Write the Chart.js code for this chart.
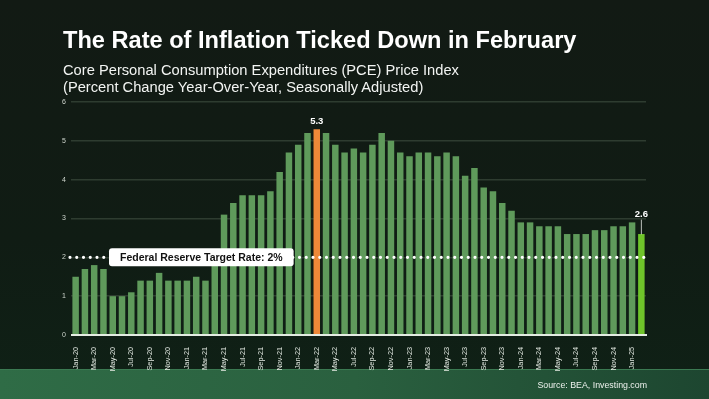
<!DOCTYPE html>
<html>
<head>
<meta charset="utf-8">
<script src="https://cdn.jsdelivr.net/npm/chart.js@4.4.1/dist/chart.umd.min.js"></script>
<style>
  html, body { margin: 0; padding: 0; }
  body { width: 709px; height: 399px; overflow: hidden; background: linear-gradient(180deg, #121a14 0%, #101c14 60%, #0f2116 100%); font-family: "Liberation Sans", Arial, sans-serif; }
  #wrap { position: relative; width: 709px; height: 399px; }
  #band { position: absolute; left: 0; top: 369px; width: 709px; height: 30px; background: linear-gradient(90deg, #2f6c46 0%, #2a603f 50%, #1d4630 100%); border-top: 1px solid #3b7a52; box-sizing: border-box; }
  canvas { position: absolute; left: 0; top: 0; }
  .title { position: absolute; left: 63px; top: 28px; color: #ffffff; font-weight: bold; font-size: 23.6px; line-height: 24px; white-space: nowrap; }
  .sub { position: absolute; left: 63px; top: 61.5px; color: #f2f4f2; font-size: 14.7px; line-height: 17px; white-space: nowrap; }
  .source { position: absolute; right: 62px; top: 380px; color: #eef2ee; font-size: 8.8px; line-height: 11px; white-space: nowrap; }
</style>
</head>
<body>
<div id="wrap">
  <div id="band"></div>
  <canvas id="c" width="709" height="399"></canvas>
  <div class="title">The Rate of Inflation Ticked Down in February</div>
  <div class="sub">Core Personal Consumption Expenditures (PCE) Price Index<br>(Percent Change Year-Over-Year, Seasonally Adjusted)</div>
  <div class="source">Source: BEA, Investing.com</div>
</div>
<script>
// ---- Data ----
const months = [
  'Jan-20','Feb-20','Mar-20','Apr-20','May-20','Jun-20','Jul-20','Aug-20','Sep-20','Oct-20','Nov-20','Dec-20',
  'Jan-21','Feb-21','Mar-21','Apr-21','May-21','Jun-21','Jul-21','Aug-21','Sep-21','Oct-21','Nov-21','Dec-21',
  'Jan-22','Feb-22','Mar-22','Apr-22','May-22','Jun-22','Jul-22','Aug-22','Sep-22','Oct-22','Nov-22','Dec-22',
  'Jan-23','Feb-23','Mar-23','Apr-23','May-23','Jun-23','Jul-23','Aug-23','Sep-23','Oct-23','Nov-23','Dec-23',
  'Jan-24','Feb-24','Mar-24','Apr-24','May-24','Jun-24','Jul-24','Aug-24','Sep-24','Oct-24','Nov-24','Dec-24',
  'Jan-25','Feb-25'
];
const corePCE = [
  1.5,1.7,1.8,1.7,1.0,1.0,1.1,1.4,1.4,1.6,1.4,1.4,
  1.4,1.5,1.4,2.0,3.1,3.4,3.6,3.6,3.6,3.7,4.2,4.7,
  4.9,5.2,5.3,5.2,4.9,4.7,4.8,4.7,4.9,5.2,5.0,4.7,
  4.6,4.7,4.7,4.6,4.7,4.6,4.1,4.3,3.8,3.7,3.4,3.2,
  2.9,2.9,2.8,2.8,2.8,2.6,2.6,2.6,2.7,2.7,2.8,2.8,
  2.9,2.6
];
const yTicks = [0, 1, 2, 3, 4, 5, 6];
const targetRate = 2;
const targetLabel = 'Federal Reserve Target Rate: 2%';
const peakMonth = 'Mar-22';
const latestMonth = 'Feb-25';
const labeledMonths = [peakMonth, latestMonth];

// ---- Styles ----
const baseColor = '#5f9a5b';
const peakColor = '#ee8838';
const latestColor = '#6fc42a';
const barColors = months.map(m => m === peakMonth ? peakColor : (m === latestMonth ? latestColor : baseColor));

const overlayPlugin = {
  id: 'overlay',
  afterDatasetsDraw(chart) {
    const ctx = chart.ctx;
    const area = chart.chartArea;
    const y = chart.scales.y;
    const meta = chart.getDatasetMeta(0);
    // zero baseline
    ctx.save();
    ctx.strokeStyle = '#e4ece2';
    ctx.lineWidth = 2;
    ctx.beginPath();
    ctx.moveTo(area.left, y.getPixelForValue(0));
    ctx.lineTo(area.right + 1, y.getPixelForValue(0));
    ctx.stroke();
    // dotted target line
    const ty = y.getPixelForValue(targetRate);
    ctx.strokeStyle = '#ffffff';
    ctx.lineWidth = 3.2;
    ctx.lineCap = 'round';
    ctx.setLineDash([0, 6.75]);
    ctx.beginPath();
    ctx.moveTo(area.left - 1, ty);
    ctx.lineTo(area.right - 2, ty);
    ctx.stroke();
    ctx.setLineDash([]);
    // target label box
    ctx.font = 'bold 10.5px "Liberation Sans", Arial, sans-serif';
    const tw = ctx.measureText(targetLabel).width;
    const bx = 109, bw = tw + 22, bh = 18;
    ctx.fillStyle = '#ffffff';
    ctx.beginPath();
    ctx.roundRect(bx, ty - bh / 2, bw, bh, 3);
    ctx.fill();
    ctx.fillStyle = '#111111';
    ctx.textAlign = 'left';
    ctx.textBaseline = 'middle';
    ctx.fillText(targetLabel, bx + 11, ty + 0.5);
    // value labels
    ctx.font = 'bold 9.5px "Liberation Sans", Arial, sans-serif';
    ctx.fillStyle = '#ffffff';
    ctx.textAlign = 'center';
    ctx.textBaseline = 'alphabetic';
    labeledMonths.forEach(m => {
      const i = months.indexOf(m);
      const bar = meta.data[i];
      const v = corePCE[i].toFixed(1);
      if (m === latestMonth) {
        const ly = bar.y - 17;
        ctx.fillText(v, bar.x, ly);
        ctx.strokeStyle = '#e8ece8';
        ctx.lineWidth = 0.8;
        ctx.beginPath();
        ctx.moveTo(bar.x, ly + 3);
        ctx.lineTo(bar.x, bar.y);
        ctx.stroke();
      } else {
        ctx.fillText(v, bar.x, bar.y - 5);
      }
    });
    ctx.restore();
  }
};

new Chart(document.getElementById('c'), {
  type: 'bar',
  data: {
    labels: months,
    datasets: [{
      data: corePCE,
      backgroundColor: barColors,
      borderWidth: 0,
      barPercentage: 0.7,
      categoryPercentage: 1.0
    }]
  },
  options: {
    responsive: false,
    animation: false,
    devicePixelRatio: 1,
    layout: { padding: { top: 102, right: 63, left: 0, bottom: 0 } },
    plugins: { legend: { display: false }, tooltip: { enabled: false }, title: { display: false } },
    scales: {
      x: {
        grid: { display: false },
        border: { display: false },
        ticks: {
          autoSkip: false,
          maxRotation: 90,
          minRotation: 90,
          padding: 4,
          color: '#e2e8e1',
          font: { size: 7.3, family: '"Liberation Sans", Arial, sans-serif' },
          callback: (v, i) => (i % 2 === 0 ? months[i] : '')
        },
        afterFit: s => { s.height = 64; }
      },
      y: {
        min: yTicks[0],
        max: yTicks[yTicks.length - 1],
        afterBuildTicks: s => { s.ticks = yTicks.map(v => ({ value: v })); },
        grid: { color: '#2e3c30', lineWidth: 1.5, drawTicks: false },
        border: { display: false },
        ticks: {
          padding: 5,
          color: '#cfd6ce',
          font: { size: 7, family: '"Liberation Sans", Arial, sans-serif' }
        },
        afterFit: s => { s.width = 71; }
      }
    }
  },
  plugins: [overlayPlugin]
});
</script>
</body>
</html>
